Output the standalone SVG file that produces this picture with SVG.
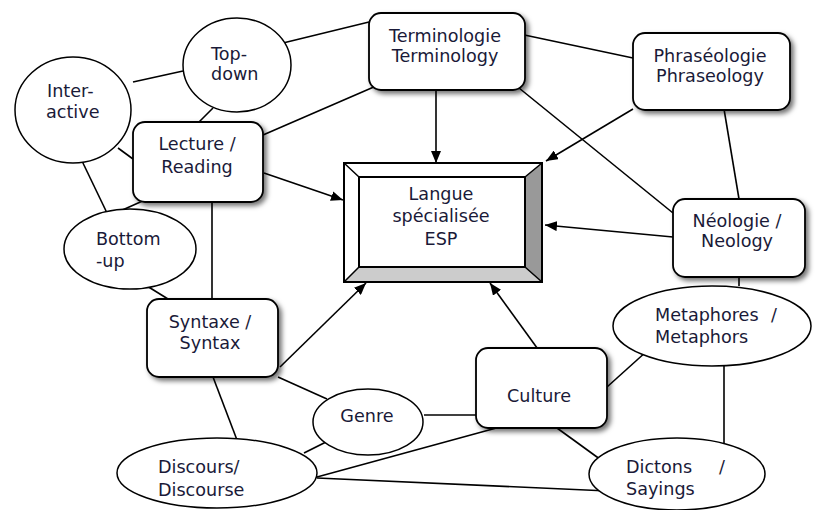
<svg xmlns="http://www.w3.org/2000/svg" width="815" height="510" viewBox="0 0 815 510">
<style>
  .edge { stroke: #000; stroke-width: 1.6; fill: none; }
  .arrow { marker-end: url(#head); }
  .box { fill: #fff; stroke: #000; stroke-width: 1.8; filter: url(#shadow); }
  .oval { fill: #fff; stroke: #000; stroke-width: 1.5; }
  text { font-family: "DejaVu Sans", Verdana, sans-serif; font-size: 17.6px; fill: #1a1a38; }
  .c { text-anchor: middle; }
</style>
<defs>
  <marker id="head" viewBox="0 0 12 10" refX="12" refY="5" markerWidth="12" markerHeight="10" markerUnits="userSpaceOnUse" orient="auto">
    <path d="M0,0 L12,5 L0,10 Z" fill="#000"/>
  </marker>
  <filter id="shadow" x="-20%" y="-20%" width="150%" height="150%">
    <feDropShadow dx="3" dy="3" stdDeviation="2.4" flood-color="#000" flood-opacity="0.55"/>
  </filter>
</defs>
<rect width="815" height="510" fill="#fff"/>

<g id="connectors">
  <line class="edge" x1="133" y1="82" x2="183" y2="71"/>
  <line class="edge" x1="283" y1="43" x2="369" y2="22"/>
  <line class="edge" x1="213" y1="108" x2="199" y2="122"/>
  <line class="edge" x1="118" y1="148" x2="133" y2="159"/>
  <line class="edge" x1="82" y1="161" x2="107" y2="213"/>
  <line class="edge" x1="147" y1="199" x2="118" y2="212"/>
  <line class="edge" x1="263" y1="135" x2="383" y2="83"/>
  <line class="edge arrow" x1="264" y1="173" x2="343" y2="200"/>
  <line class="edge" x1="212" y1="202" x2="212" y2="299"/>
  <line class="edge" x1="147" y1="286" x2="168" y2="299"/>
  <line class="edge arrow" x1="436" y1="90" x2="436" y2="163"/>
  <line class="edge" x1="515" y1="33" x2="633" y2="58"/>
  <line class="edge" x1="519" y1="88" x2="673" y2="213"/>
  <line class="edge arrow" x1="633" y1="109" x2="546" y2="161"/>
  <line class="edge" x1="724" y1="109" x2="739" y2="199"/>
  <line class="edge arrow" x1="673" y1="237" x2="545" y2="225"/>
  <line class="edge" x1="739" y1="277" x2="739" y2="286"/>
  <line class="edge" x1="724" y1="366" x2="724" y2="455"/>
  <line class="edge arrow" x1="540" y1="352" x2="490" y2="283"/>
  <line class="edge" x1="607" y1="387" x2="647" y2="351"/>
  <line class="edge" x1="424" y1="415" x2="476" y2="415"/>
  <line class="edge" x1="557" y1="428" x2="608" y2="465"/>
  <line class="edge" x1="500" y1="427" x2="317" y2="477"/>
  <line class="edge" x1="330" y1="440" x2="304" y2="453"/>
  <line class="edge" x1="213" y1="377" x2="237" y2="440"/>
  <line class="edge" x1="278" y1="377" x2="327" y2="399"/>
  <line class="edge arrow" x1="280" y1="367" x2="366" y2="283"/>
  <line class="edge" x1="317" y1="478" x2="608" y2="491"/>
</g>

<g id="langue">
  <rect x="344" y="163" width="198" height="119" fill="#fff" stroke="#000" stroke-width="2"/>
  <polygon points="525,177 542,163 542,282 525,267" fill="#999"/>
  <polygon points="359,267 525,267 542,282 344,282" fill="#ccc"/>
  <path d="M344,163 L359,177 M344,282 L359,267 M542,163 L525,177 M542,282 L525,267" stroke="#000" stroke-width="1.5"/>
  <rect x="344" y="163" width="198" height="119" fill="none" stroke="#000" stroke-width="2"/>
  <rect x="359" y="177" width="166" height="90" fill="#fff" stroke="#000" stroke-width="2"/>
  <text class="c" x="441" y="200">Langue</text>
  <text class="c" x="441" y="222">spécialisée</text>
  <text class="c" x="441" y="245">ESP</text>
</g>

<g id="terminologie">
  <rect class="box" x="369" y="13" width="156" height="77" rx="12"/>
  <text class="c" x="445" y="42">Terminologie</text>
  <text class="c" x="445" y="62">Terminology</text>
</g>

<g id="phraseologie">
  <rect class="box" x="633" y="33" width="157" height="77" rx="12"/>
  <text class="c" x="710" y="62">Phraséologie</text>
  <text class="c" x="710" y="82">Phraseology</text>
</g>

<g id="neologie">
  <rect class="box" x="673" y="199" width="132" height="78" rx="12"/>
  <text class="c" x="737" y="227">Néologie /</text>
  <text class="c" x="737" y="247">Neology</text>
</g>

<g id="lecture">
  <rect class="box" x="133" y="122" width="130" height="80" rx="12"/>
  <text class="c" x="197" y="150">Lecture /</text>
  <text class="c" x="197" y="173">Reading</text>
</g>

<g id="syntaxe">
  <rect class="box" x="147" y="299" width="131" height="78" rx="12"/>
  <text class="c" x="210" y="328">Syntaxe /</text>
  <text class="c" x="210" y="349">Syntax</text>
</g>

<g id="culture">
  <rect class="box" x="476" y="348" width="131" height="80" rx="12"/>
  <text class="c" x="539" y="402">Culture</text>
</g>

<g id="interactive">
  <ellipse class="oval" cx="73" cy="110" rx="58" ry="53"/>
  <text x="47" y="97">Inter-</text>
  <text x="46" y="118">active</text>
</g>

<g id="topdown">
  <ellipse class="oval" cx="237" cy="65" rx="54" ry="47"/>
  <text x="211" y="60">Top-</text>
  <text x="211" y="80">down</text>
</g>

<g id="bottomup">
  <ellipse class="oval" cx="130" cy="249" rx="66" ry="40"/>
  <text x="96" y="245">Bottom</text>
  <text x="96" y="267">-up</text>
</g>

<g id="genre">
  <ellipse class="oval" cx="368" cy="422" rx="55" ry="33"/>
  <text class="c" x="367" y="422">Genre</text>
</g>

<g id="discours">
  <ellipse class="oval" cx="217" cy="473" rx="100" ry="35"/>
  <text x="158" y="473">Discours/</text>
  <text x="158" y="496">Discourse</text>
</g>

<g id="metaphores">
  <ellipse class="oval" cx="712" cy="326" rx="99" ry="40"/>
  <text x="655" y="321">Metaphores<tspan x="771">/</tspan></text>
  <text x="655" y="343">Metaphors</text>
</g>

<g id="dictons">
  <ellipse class="oval" cx="677" cy="474" rx="88" ry="36"/>
  <text x="626" y="473">Dictons<tspan x="719">/</tspan></text>
  <text x="626" y="495">Sayings</text>
</g>
</svg>
